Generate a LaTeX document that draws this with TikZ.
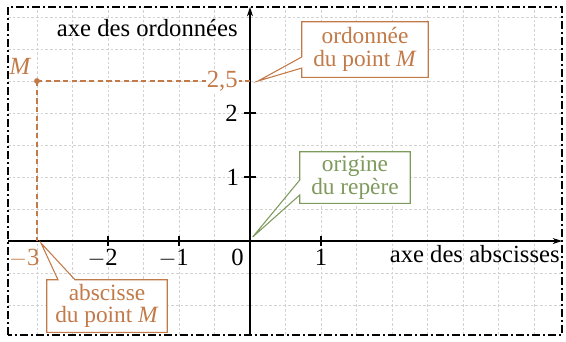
\documentclass[tikz,border=0pt]{standalone}
\usepackage{fontspec}
\setmainfont{Liberation Serif}
\usetikzlibrary{arrows.meta,calc,positioning}
\definecolor{RepOrange}{HTML}{C27A48}
\definecolor{RepGreen}{HTML}{7E9A5C}
\definecolor{GridGray}{HTML}{D2D2D2}

\begin{document}
\begin{tikzpicture}[x=53.25pt,y=48pt,
      lbl/.style={font=\fontsize{18.5}{15}\selectfont,inner sep=0pt},
      bubble/.style={font=\fontsize{17.5}{17}\selectfont,align=center,fill=white,inner sep=0pt},
      bubbleline/.style={line width=0.8pt,line join=miter},
      axis/.style={-{Stealth[length=7pt,width=4.5pt]},line width=0.9pt},
      tickmark/.style={line width=0.8pt},
      guide/.style={RepOrange,line width=0.8pt,dash pattern=on 4pt off 2.5pt},
      gridline/.style={GridGray,line width=0.4pt,dash pattern=on 2pt off 1.5pt},
      frameline/.style={line width=1.5pt,dash pattern=on 6pt off 2.5pt on 1pt off 2.5pt}]
  \useasboundingbox (-3.521,-1.5625) rectangle (4.451,3.766);
  % grille et cadre
  \draw[gridline] (-3.408,-1.469) grid[step=0.5] (4.394,3.656);
  \draw[frameline] (-3.408,-1.469) rectangle (4.394,3.656);
  % axes
  \coordinate (O) at (0,0);
  \coordinate (xbeg) at (-3.408,0);
  \coordinate (xend) at (4.394,0);
  \coordinate (ybeg) at (0,-1.469);
  \coordinate (yend) at (0,3.656);
  \draw[axis] (xbeg) -- (xend);
  \draw[axis] (ybeg) -- (yend);
  \foreach \x in {-2,-1,1}
    \draw[tickmark] (\x,4pt) -- (\x,-4pt);
  \foreach \y in {1,2}
    \draw[tickmark] (-4.5pt,\y) -- (4.5pt,\y);
  \node[lbl,anchor=base,xshift=-4pt] (xm2) at (-2,-0.375) {$-$2};
  \node[lbl,anchor=base,xshift=-4pt] (xm1) at (-1,-0.375) {$-$1};
  \node[lbl,anchor=base] (x1) at (1,-0.375) {1};
  \node[lbl,anchor=base] (x0) at (-0.176,-0.375) {0};
  \node[lbl,anchor=east,xshift=-8pt] (y1) at (0,1) {1};
  \node[lbl,anchor=east,xshift=-9pt] (y2) at (0,2) {2};
  \node[lbl,anchor=base east] (xname) at (4.366,-0.33) {axe des abscisses};
  \node[lbl,anchor=base east] (yname) at (-0.169,3.19) {axe des ordonnées};
  % point M
  \coordinate (M) at (-3,2.5);
  \coordinate (Mx) at (-3,0);
  \coordinate (My) at (0,2.5);
  \draw[guide] (M) -- (My);
  \draw[guide] (M) -- (Mx);
  \fill[RepOrange] (M) circle (2.2pt);
  \node[lbl,anchor=south east,xshift=-4pt,yshift=5pt,text=RepOrange] (labM) at (M) {\textit{M}};
  \node[lbl,anchor=east,xshift=-8pt,fill=white,inner sep=1pt,text=RepOrange] (y25) at (My) {2,5};
  \node[lbl,anchor=base east,xshift=2pt,text=RepOrange] (xm3) at (-3,-0.375) {$-$3};
  % bulles
  \coordinate (tipOrd) at ($(My)+(6pt,0)$);
  \coordinate (tipO) at ($(O)+(2pt,3pt)$);
  \coordinate (tipAbs) at ($(Mx)+(3pt,-1.5pt)$);
  \node[bubble,text=RepOrange,minimum width=94.5pt,minimum height=41.25pt] (ordM) at (1.620,2.992)
    {ordonnée\\du point \textit{M}};
  \draw[bubbleline,RepOrange] ($(ordM.west)+(0,-5.6pt)$) -- (tipOrd) -- ($(ordM.west)+(0,-13.9pt)$)
    -- (ordM.south west) -- (ordM.south east) -- (ordM.north east) -- (ordM.north west) -- cycle;
  \node[bubble,text=RepGreen,minimum width=82.5pt,minimum height=38.25pt] (orig) at (1.479,0.992)
    {origine\\du repère};
  \draw[bubbleline,RepGreen] ($(orig.west)+(0,-1.9pt)$) -- (tipO) -- ($(orig.west)+(0,-13.1pt)$)
    -- (orig.south west) -- (orig.south east) -- (orig.north east) -- (orig.north west) -- cycle;
  \node[bubble,text=RepOrange,minimum width=90pt,minimum height=39pt] (absM) at (-2.014,-1.016)
    {abscisse\\du point \textit{M}};
  \draw[bubbleline,RepOrange] (absM.north west) -- ($(absM.north)+(-36.75pt,0)$) -- (tipAbs)
    -- ($(absM.north)+(-24pt,0)$) -- (absM.north east) -- (absM.south east) -- (absM.south west) -- cycle;
\end{tikzpicture}
\end{document}
